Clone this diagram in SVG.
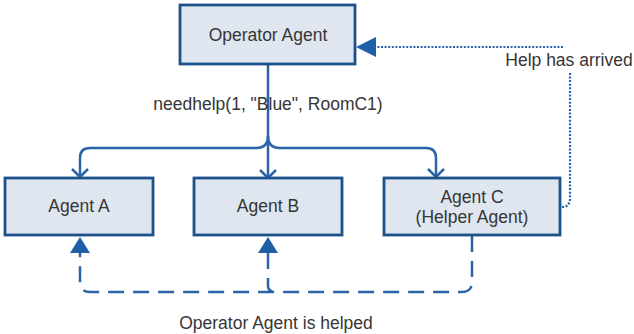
<svg xmlns="http://www.w3.org/2000/svg" width="634" height="334" viewBox="0 0 634 334">
<style>
.box{fill:#dfe6f0;stroke:#1d5189;stroke-width:2.8}
.t{font-family:"Liberation Sans",Arial,sans-serif;font-size:17.5px;fill:#363636;text-anchor:middle}
.ln{fill:none;stroke:#2a64a8;stroke-width:2.5}
.dash{fill:none;stroke:#2a64a8;stroke-width:2.5;stroke-dasharray:16 9}
.dot{fill:none;stroke:#2a64a8;stroke-width:2.2;stroke-dasharray:2 1.6}
</style>
<rect width="634" height="334" fill="#ffffff"/>
<g id="connectors">
<path class="ln" d="M268,64 V178"/>
<path class="ln" d="M268,136 Q268,148 256,148 H90 Q80,148 80,158 V176"/>
<path class="ln" d="M268,136 Q268,148 280,148 H426 Q436,148 436,158 V176"/>
<path d="M260,170 L268,178 L276,170" fill="none" stroke="#2a64a8" stroke-width="2.5"/>
<path d="M72,169 L80,177 L88,169" fill="none" stroke="#2a64a8" stroke-width="2.5"/>
<path d="M428,169 L436,177 L444,169" fill="none" stroke="#2a64a8" stroke-width="2.5"/>
<path class="dash" d="M472,236 V282 Q472,292 462,292 H90 Q80,292 80,282 V253"/>
<path class="dash" d="M268,253 V286 Q268,292 276,292"/>
<polygon points="80,237 70,253 90,253" fill="#1f5fa8"/>
<polygon points="268,237 258,253 278,253" fill="#1f5fa8"/>
<path class="dot" d="M562,207 Q570,207 570,198 V72"/>
<path class="dot" d="M563,47 H374"/>
<polygon points="356,47 376,37 376,57" fill="#1f5fa8"/>
<text class="t" x="268" y="110">needhelp(1, "Blue", RoomC1)</text>
<text class="t" x="569" y="66">Help has arrived</text>
<text class="t" x="276" y="329">Operator Agent is helped</text>
</g>
<g id="operator">
<rect class="box" x="180" y="5" width="175" height="59"/>
<text class="t" x="268" y="41">Operator Agent</text>
</g>
<g id="agentA">
<rect class="box" x="5" y="178" width="148" height="57"/>
<text class="t" x="79" y="212">Agent A</text>
</g>
<g id="agentB">
<rect class="box" x="194" y="178" width="148" height="57"/>
<text class="t" x="268" y="212">Agent B</text>
</g>
<g id="agentC">
<rect class="box" x="384" y="178" width="176" height="57"/>
<text class="t" x="472" y="203">Agent C</text>
<text class="t" x="472" y="223">(Helper Agent)</text>
</g>
</svg>
